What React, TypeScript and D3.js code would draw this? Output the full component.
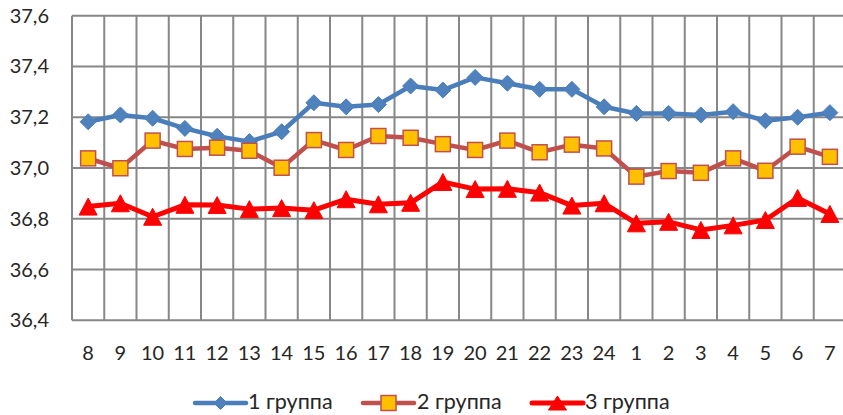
import React from "react";
import * as d3 from "d3";

const categories = ["8","9","10","11","12","13","14","15","16","17","18","19","20","21","22","23","24","1","2","3","4","5","6","7"];
const group1 = [37.182,37.209,37.196,37.156,37.125,37.104,37.143,37.257,37.241,37.25,37.323,37.307,37.357,37.334,37.31,37.31,37.241,37.215,37.215,37.209,37.222,37.186,37.2,37.218];
const group2 = [37.038,36.999,37.108,37.075,37.08,37.068,37.001,37.11,37.071,37.126,37.119,37.094,37.071,37.108,37.062,37.092,37.077,36.966,36.988,36.981,37.038,36.989,37.084,37.044];
const group3 = [36.848,36.861,36.808,36.855,36.854,36.838,36.842,36.834,36.877,36.857,36.863,36.945,36.917,36.918,36.903,36.852,36.861,36.782,36.788,36.756,36.774,36.795,36.882,36.819];
const yTicks = [36.4,36.6,36.8,37.0,37.2,37.4,37.6];
const seriesNames = ["1 группа","2 группа","3 группа"];

const W = 843, H = 415;
const left = 72, right = 846, top = 15.7, bottom = 320.3;
const font = "Lato, 'Open Sans', sans-serif";
const textColor = "#262626";

function Marker({ kind, x, y, small }: { kind: number; x: number; y: number; small?: boolean }) {
  if (kind === 0) {
    const r = small ? 6.5 : 8;
    return <path d={`M${x},${y - r}L${x + r},${y}L${x},${y + r}L${x - r},${y}Z`} fill="#4f81bd" stroke="#4a7ebb" strokeWidth={1} />;
  }
  if (kind === 1) {
    const s = 7.5;
    return <rect x={x - s} y={y - s} width={2 * s} height={2 * s} fill="#ffc000" stroke="#c0504d" strokeWidth={1.5} />;
  }
  const w = 9, h = small ? 7 : 8.5;
  return <path d={`M${x},${y - h}L${x + w},${y + h}L${x - w},${y + h}Z`} fill="#ff0000" stroke="#ff0000" strokeWidth={1} />;
}

export default function App() {
  const x = d3.scaleBand<string>().domain(categories).range([left, right]).padding(0);
  const y = d3.scaleLinear().domain([36.4, 37.6]).range([bottom, top]);
  const cx = (c: string) => (x(c) as number) + x.bandwidth() / 2;
  const series = [
    { values: group1, color: "#4a7ebb", width: 4.5 },
    { values: group2, color: "#c0504d", width: 4.5 },
    { values: group3, color: "#ff0000", width: 5 },
  ];
  const line = d3.line<[number, number]>().x(d => d[0]).y(d => d[1]);
  const fmt = (v: number) => v.toFixed(1).replace(".", ",");
  const boundaries = categories.map(c => x(c) as number).concat([right]);
  const legendItems = [
    { lx: 195, tx: 248 },
    { lx: 363, tx: 417 },
    { lx: 532, tx: 585 },
  ];
  const ly = 403;
  return (
    <svg width={W} height={H} style={{ position: "absolute", left: 0, top: 0 }}>
      <rect x={0} y={0} width={W} height={H} fill="#fff" />
      {yTicks.map(t => (
        <line key={"h" + t} x1={left} x2={right} y1={y(t)} y2={y(t)} stroke="#878787" strokeWidth={2} />
      ))}
      {boundaries.map((b, i) => (
        <line key={"v" + i} x1={b} x2={b} y1={top} y2={bottom} stroke="#878787" strokeWidth={2} />
      ))}
      {yTicks.map(t => (
        <text key={"yt" + t} x={49} y={y(t)} dy="0.35em" textAnchor="end" fontFamily={font} fontSize={20} fill={textColor}>{fmt(t)}</text>
      ))}
      {categories.map(c => (
        <text key={"xt" + c} x={cx(c)} y={360} textAnchor="middle" fontFamily={font} fontSize={20} fill={textColor}>{c}</text>
      ))}
      {series.map((s, si) => (
        <g key={"s" + si}>
          <path d={line(categories.map((c, i) => [cx(c), y(s.values[i])]) as [number, number][]) || ""} fill="none" stroke={s.color} strokeWidth={s.width} strokeLinejoin="round" strokeLinecap="round" />
          {categories.map((c, i) => <Marker key={i} kind={si} x={cx(c)} y={y(s.values[i])} />)}
        </g>
      ))}
      {legendItems.map((l, i) => (
        <g key={"l" + i}>
          <line x1={l.lx} x2={l.lx + 51} y1={ly} y2={ly} stroke={series[i].color} strokeWidth={series[i].width} strokeLinecap="round" />
          <Marker kind={i} x={l.lx + 25.5} y={ly} small />
          <text x={l.tx} y={409} fontFamily={font} fontSize={21.5} fill={textColor}>{seriesNames[i]}</text>
        </g>
      ))}
    </svg>
  );
}
